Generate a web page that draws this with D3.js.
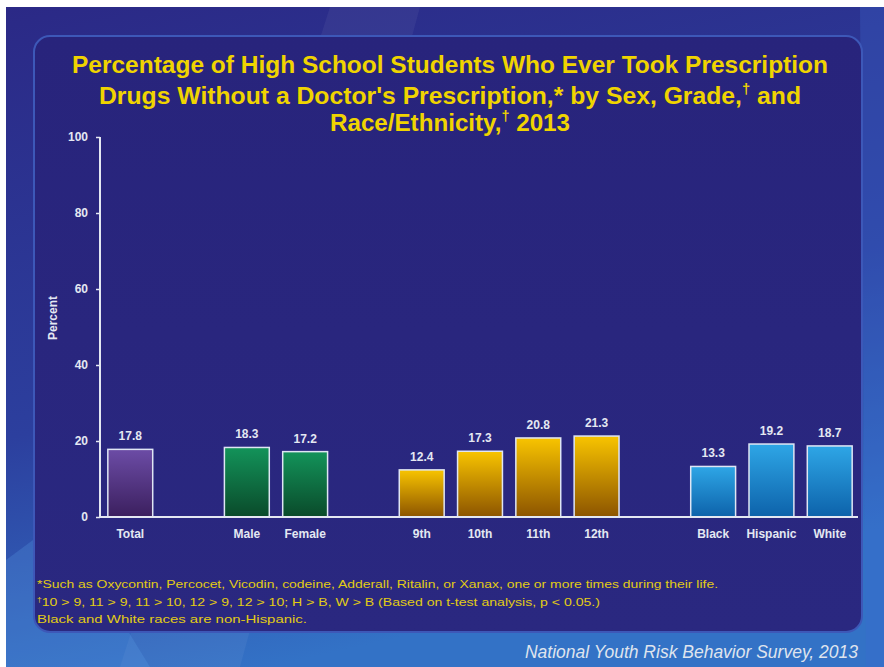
<!DOCTYPE html>
<meta charset="utf-8">
<style>
body { margin: 0; background: #fff; }
svg { display: block; }
text { font-family: "Liberation Sans", Arial, sans-serif; }
</style>
<svg width="884" height="667"></svg>
<script src="https://d3js.org/d3.v7.min.js"></script>
<script>

// chart values
var groups = ["total", "sex", "grade", "race"];
var categories = ["Total", "Male", "Female", "9th", "10th", "11th", "12th", "Black", "Hispanic", "White"];
var catGroup = ["total", "sex", "sex", "grade", "grade", "grade", "grade", "race", "race", "race"];
var percents = [17.8, 18.3, 17.2, 12.4, 17.3, 20.8, 21.3, 13.3, 19.2, 18.7];
var yTicks = [0, 20, 40, 60, 80, 100];

var titleLines = [
  "Percentage of High School Students Who Ever Took Prescription",
  "Drugs  Without a Doctor's  Prescription,* by Sex, Grade,\u2020 and",
  "Race/Ethnicity,\u2020 2013"
];
var footnotes = [
  "*Such as Oxycontin,  Percocet, Vicodin, codeine, Adderall, Ritalin, or Xanax, one or more  times during their life.",
  "\u202010 > 9, 11 > 9, 11 > 10, 12 > 9, 12 > 10; H > B, W > B (Based on t-test analysis, p < 0.05.)",
  "Black and White races are non-Hispanic."
];
var source = "National Youth Risk Behavior Survey, 2013";

var svg = d3.select("svg");
var defs = svg.append("defs");

// slide background
var bg = defs.append("linearGradient").attr("id", "bg")
    .attr("x1", 0).attr("y1", 0).attr("x2", 0.3).attr("y2", 1);
bg.append("stop").attr("offset", 0).attr("stop-color", "#2b2986");
bg.append("stop").attr("offset", 0.6).attr("stop-color", "#2c3f9e");
bg.append("stop").attr("offset", 1).attr("stop-color", "#3372c6");

var panelG = defs.append("linearGradient").attr("id", "panel")
    .attr("x1", 0).attr("y1", 0).attr("x2", 0).attr("y2", 1);
panelG.append("stop").attr("offset", 0).attr("stop-color", "#28247c");
panelG.append("stop").attr("offset", 1).attr("stop-color", "#2a2880");

var barColors = {
  total: ["#6c4ca6", "#3b1f5e"],
  sex: ["#13935a", "#0a4a2a"],
  grade: ["#f8c400", "#8c5400"],
  race: ["#2ea6e6", "#0d62aa"]
};
groups.forEach(function(k) {
  var gr = defs.append("linearGradient").attr("id", "bar-" + k)
      .attr("x1", 0).attr("y1", 0).attr("x2", 0).attr("y2", 1);
  gr.append("stop").attr("offset", 0).attr("stop-color", barColors[k][0]);
  gr.append("stop").attr("offset", 1).attr("stop-color", barColors[k][1]);
});

svg.append("rect").attr("x", 6).attr("y", 7).attr("width", 878).attr("height", 660)
    .attr("fill", "url(#bg)");
// soft diagonal streaks
svg.append("path").attr("d", "M330,7 L420,7 L240,667 L120,667 Z")
    .attr("fill", "#ffffff").attr("opacity", 0.05);
svg.append("path").attr("d", "M6,560 L60,520 L150,667 L6,667 Z")
    .attr("fill", "#5aa0e8").attr("opacity", 0.25);
svg.append("path").attr("d", "M860,7 L884,7 L884,667 L866,667 Z")
    .attr("fill", "#3a6ad0").attr("opacity", 0.3);

svg.append("rect").attr("x", 34).attr("y", 36).attr("width", 828).attr("height", 596)
    .attr("rx", 16).attr("fill", "url(#panel)")
    .attr("stroke", "#3d58b8").attr("stroke-width", 2);

// writes a string into a text node, raising any dagger as a superscript
function withDaggers(sel, size) {
  sel.each(function(d) {
    var t = d3.select(this);
    d.split("\u2020").forEach(function(part, j) {
      if (j > 0) {
        t.append("tspan").attr("dy", -size * 0.4).style("font-size", (size * 0.6) + "px").text("\u2020");
        t.append("tspan").attr("dy", size * 0.4).text(part);
      } else {
        t.append("tspan").text(part);
      }
    });
  });
}

// title
var titleY = [73, 104, 131];
var titleW = [756, 702, 240];
svg.append("g").selectAll("text").data(titleLines).join("text")
    .attr("x", 450).attr("y", function(d, i) { return titleY[i]; })
    .attr("text-anchor", "middle")
    .attr("textLength", function(d, i) { return titleW[i]; })
    .attr("lengthAdjust", "spacingAndGlyphs")
    .style("font-family", "'Liberation Sans Narrow', 'Liberation Sans', Arial, sans-serif")
    .style("font-weight", "bold").style("font-size", "24px")
    .attr("fill", "#f0d400")
    .call(withDaggers, 24);

// scales: band domain with spacer slots between groups
var slots = [];
categories.forEach(function(c, i) {
  if (i > 0 && catGroup[i] !== catGroup[i - 1]) slots.push("gap" + i);
  slots.push(c);
});

var x = d3.scaleBand().domain(slots).range([102, 858]).paddingInner(0.23).paddingOuter(0.1);
var y = d3.scaleLinear().domain([0, 100]).range([517, 137]);

var axisColor = "#e4e8f2";

var yAxis = svg.append("g").attr("transform", "translate(100,0)")
    .call(d3.axisLeft(y).tickValues(yTicks).tickSize(4).tickPadding(8));
yAxis.select(".domain").attr("stroke", axisColor).attr("stroke-width", 2).attr("d", "M0,137V517");
yAxis.selectAll(".tick line").attr("stroke", axisColor).attr("stroke-width", 1.5);
yAxis.selectAll(".tick text").attr("fill", "#e4e8f2")
    .style("font-size", "12px").style("font-weight", "bold");

svg.append("text")
    .attr("transform", "translate(57,318) rotate(-90)")
    .attr("text-anchor", "middle")
    .attr("fill", "#e4e8f2").style("font-size", "12px").style("font-weight", "bold")
    .text("Percent");

// bars
svg.append("g").selectAll("rect").data(categories).join("rect")
    .attr("x", function(d) { return x(d); })
    .attr("y", function(d, i) { return y(percents[i]); })
    .attr("width", x.bandwidth())
    .attr("height", function(d, i) { return y(0) - y(percents[i]); })
    .attr("fill", function(d, i) { return "url(#bar-" + catGroup[i] + ")"; })
    .attr("stroke", "#dfe6f4").attr("stroke-width", 1.5);

svg.append("g").selectAll("text").data(categories).join("text")
    .attr("x", function(d) { return x(d) + x.bandwidth() / 2; })
    .attr("y", function(d, i) { return y(percents[i]) - 9; })
    .attr("text-anchor", "middle")
    .attr("fill", "#e4e8f2").style("font-size", "12px").style("font-weight", "bold")
    .text(function(d, i) { return percents[i].toFixed(1); });

// x axis
var xAxis = svg.append("g").attr("transform", "translate(0,517)")
    .call(d3.axisBottom(x).tickSize(0).tickPadding(12)
      .tickFormat(function(d) { return d.indexOf("gap") === 0 ? "" : d; }));
xAxis.select(".domain").attr("stroke", axisColor).attr("stroke-width", 2).attr("d", "M99,0H858");
xAxis.selectAll(".tick text").attr("fill", "#e4e8f2")
    .style("font-size", "12px").style("font-weight", "bold");

// footnotes
var footY = [588, 606, 623];
var footW = [681, 563, 270];
svg.append("g").selectAll("text").data(footnotes).join("text")
    .attr("x", 37).attr("y", function(d, i) { return footY[i]; })
    .attr("textLength", function(d, i) { return footW[i]; })
    .attr("lengthAdjust", "spacingAndGlyphs")
    .attr("fill", "#e2cc14").style("font-size", "10.5px")
    .call(withDaggers, 10.5);

svg.append("text")
    .attr("x", 858).attr("y", 658).attr("text-anchor", "end")
    .attr("fill", "#dfe4ee").style("font-size", "17.5px").style("font-style", "italic")
    .text(source);

</script>
